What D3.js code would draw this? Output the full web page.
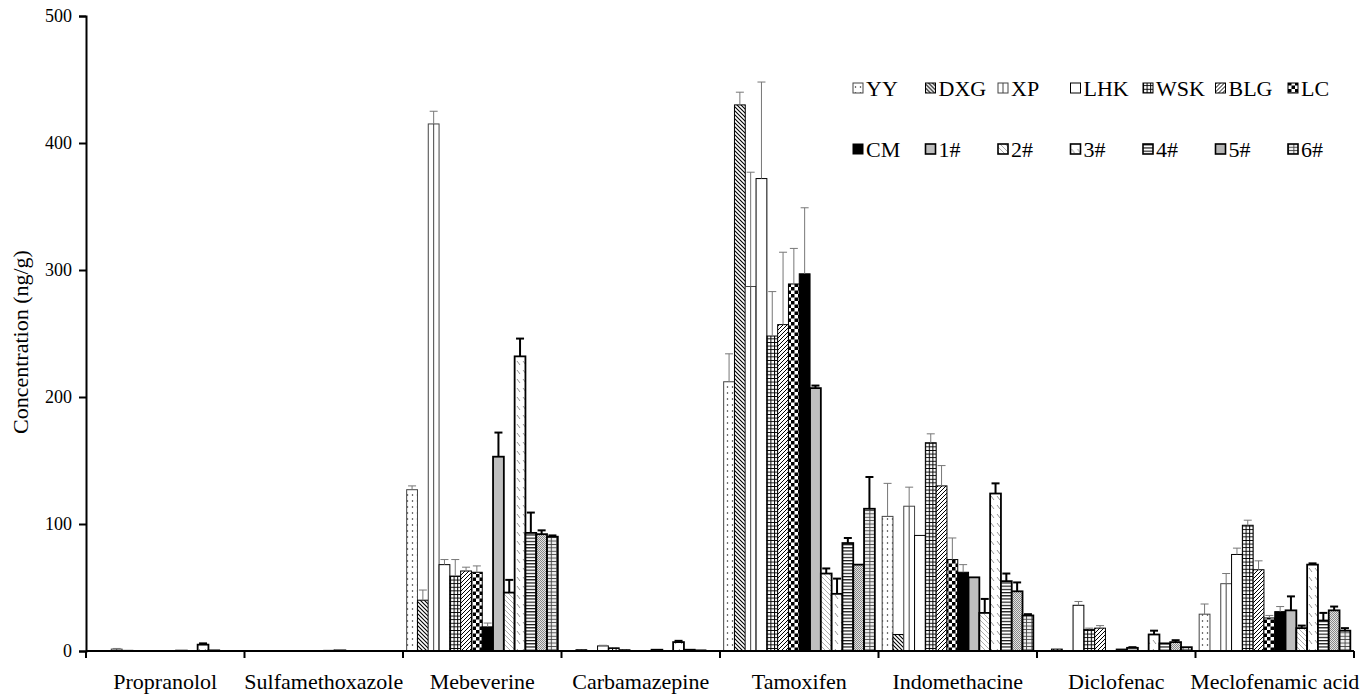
<!DOCTYPE html>
<html>
<head>
<meta charset="utf-8">
<script src="https://cdn.jsdelivr.net/npm/d3@7"></script>
<style>
  body { margin: 0; background: #fff; }
</style>
</head>
<body>
<svg id="chart" width="1362" height="695"></svg>
<script>
const categories = ["Propranolol", "Sulfamethoxazole", "Mebeverine", "Carbamazepine",
  "Tamoxifen", "Indomethacine", "Diclofenac", "Meclofenamic acid"];
const sites = ["YY", "DXG", "XP", "LHK", "WSK", "BLG", "LC", "CM", "1#", "2#", "3#", "4#", "5#", "6#"];
const yTicks = [0, 100, 200, 300, 400, 500];

// mean values per compound, in site order
const propranolol      = [0, 0, 1.5, 0.5, 0, 0, 0, 0, 0.3, 0, 5, 0.5, 0, 0];
const sulfamethoxazole = [0, 0, 0, 0, 0, 0, 0, 0.5, 0.5, 0, 0, 0, 0, 0];
const mebeverine       = [127, 40, 415, 68, 59, 63, 62, 19, 153, 46, 232, 93, 92, 90];
const carbamazepine    = [0, 1, 0, 4, 2.5, 1, 0, 0, 1, 0, 7, 1, 0.5, 0];
const tamoxifen        = [212, 430, 287, 372, 248, 257, 289, 297, 207, 61, 45, 85, 68, 112];
const indomethacine    = [106, 13, 114, 91, 164, 130, 72, 62, 58, 30, 124, 55, 47, 28];
const diclofenac       = [0, 1.5, 0, 36, 17, 18, 0, 1.5, 2.5, 0, 13, 6, 7, 3];
const meclofenamic     = [29, 0, 53, 76, 99, 64, 26, 31, 32, 18, 68, 24, 32, 16];

// standard deviations
const propranololSd      = [0, 0, 0.5, 0, 0, 0, 0, 0, 0, 0, 1, 0, 0, 0];
const sulfamethoxazoleSd = [0, 0, 0, 0, 0, 0, 0, 0, 0, 0, 0, 0, 0, 0];
const mebeverineSd       = [3, 8, 10, 4, 13, 3, 5, 3, 19, 10, 14, 16, 3, 1];
const carbamazepineSd    = [0, 0, 0, 0.5, 0, 0, 0, 0, 0, 0, 1, 0, 0, 0];
const tamoxifenSd        = [22, 10, 90, 76, 35, 57, 28, 52, 2, 4, 12, 4, 0, 25];
const indomethacineSd    = [26, 0, 15, 0, 7, 16, 17, 6, 0, 11, 8, 6, 7, 1];
const diclofenacSd       = [0, 0, 0, 3, 1, 2, 0, 0, 0.5, 0, 3, 0, 1.5, 0];
const meclofenamicSd     = [8, 0, 8, 5, 4, 7, 2, 4, 11, 2, 1, 6, 3, 2];

const means = [propranolol, sulfamethoxazole, mebeverine, carbamazepine,
  tamoxifen, indomethacine, diclofenac, meclofenamic];
const sds = [propranololSd, sulfamethoxazoleSd, mebeverineSd, carbamazepineSd,
  tamoxifenSd, indomethacineSd, diclofenacSd, meclofenamicSd];

const rows = [];
categories.forEach((c, i) => {
  sites.forEach((s, j) => {
    rows.push({ cat: c, site: s, idx: j, v: means[i][j], sd: sds[i][j] });
  });
});

const serif = "'Liberation Serif', 'Times New Roman', Times, serif";
const svg = d3.select("#chart");
const defs = svg.append("defs");

const plotLeft = 86, plotRight = 1354, plotTop = 16, plotBottom = 651;

const x = d3.scaleBand().domain(categories).range([plotLeft, plotRight]).padding(0);
const xs = d3.scaleBand().domain(sites).range([0, x.bandwidth()]).paddingInner(0).paddingOuter(0.34);
const y = d3.scaleLinear().domain([0, 500]).range([plotBottom, plotTop]);

// fill patterns
function pat(id, w, h, bg, draw) {
  const p = defs.append("pattern").attr("id", id)
    .attr("patternUnits", "userSpaceOnUse").attr("width", w).attr("height", h);
  p.append("rect").attr("width", w).attr("height", h).attr("fill", bg);
  draw(p);
}
pat("p-yy", 5, 6, "#fff", p => p.append("circle").attr("cx", 2.5).attr("cy", 3).attr("r", 0.75).attr("fill", "#222"));
pat("p-dxg", 4, 4, "#fff", p => p.append("path").attr("d", "M0,0L4,4M-1,3L1,5M3,-1L5,1").attr("stroke", "#000").attr("stroke-width", 1.1));
pat("p-wsk", 3.6, 3.6, "#fff", p => p.append("path").attr("d", "M0,0.5H3.6M0.5,0V3.6").attr("stroke", "#000").attr("stroke-width", 1));
pat("p-blg", 4, 4, "#fff", p => p.append("path").attr("d", "M0,4L4,0M-1,1L1,-1M3,5L5,3").attr("stroke", "#000").attr("stroke-width", 1));
pat("p-lc", 7, 7, "#fff", p => {
  p.append("rect").attr("width", 3.5).attr("height", 3.5).attr("fill", "#000");
  p.append("rect").attr("x", 3.5).attr("y", 3.5).attr("width", 3.5).attr("height", 3.5).attr("fill", "#000");
});
pat("p-2", 5, 5, "#fff", p => p.append("path").attr("d", "M0,0L5,5M-1,4L1,6M4,-1L6,1").attr("stroke", "#999").attr("stroke-width", 0.8));
pat("p-3", 6, 9, "#fff", p => p.append("path").attr("d", "M1,1L4,5").attr("stroke", "#888").attr("stroke-width", 0.9));
pat("p-4", 3, 3.2, "#fff", p => p.append("path").attr("d", "M0,0.6H3").attr("stroke", "#000").attr("stroke-width", 1.1));
pat("p-5", 2, 2, "#e4e4e4", p => {
  p.append("rect").attr("width", 1).attr("height", 1).attr("fill", "#888");
  p.append("rect").attr("x", 1).attr("y", 1).attr("width", 1).attr("height", 1).attr("fill", "#888");
});
pat("p-6", 5.4, 3.4, "#eee", p => p.append("path").attr("d", "M0,0.5H5.4M0.5,0V3.4").attr("stroke", "#444").attr("stroke-width", 0.9));

const fills = ["url(#p-yy)", "url(#p-dxg)", "#fff", "#fff", "url(#p-wsk)", "url(#p-blg)", "url(#p-lc)",
  "#000", "#bfbfbf", "url(#p-2)", "url(#p-3)", "url(#p-4)", "url(#p-5)", "url(#p-6)"];
const strokeW = j => j >= 8 ? 1.8 : 1;
const strokeC = j => j === 0 || j === 2 ? "#444" : "#000";

// bars
const g = svg.append("g");
const bars = rows.filter(d => d.v > 0);

g.selectAll("rect.bar").data(bars).join("rect")
  .attr("class", "bar")
  .attr("x", d => x(d.cat) + xs(d.site))
  .attr("y", d => y(d.v))
  .attr("width", xs.bandwidth())
  .attr("height", d => y(0) - y(d.v))
  .attr("fill", d => fills[d.idx])
  .attr("stroke", d => strokeC(d.idx))
  .attr("stroke-width", d => strokeW(d.idx));

// XP has a line down the middle
g.selectAll("line.xp").data(bars.filter(d => d.idx === 2)).join("line")
  .attr("x1", d => x(d.cat) + xs(d.site) + xs.bandwidth() / 2)
  .attr("x2", d => x(d.cat) + xs(d.site) + xs.bandwidth() / 2)
  .attr("y1", d => y(d.v)).attr("y2", y(0))
  .attr("stroke", "#444").attr("stroke-width", 1);

// error bars
const errs = rows.filter(d => d.sd > 0);
const cap = 4;
const eg = g.selectAll("g.err").data(errs).join("g")
  .attr("stroke", d => d.idx >= 8 ? "#000" : "#777")
  .attr("stroke-width", d => d.idx >= 8 ? 2 : 1);
eg.append("line")
  .attr("x1", d => x(d.cat) + xs(d.site) + xs.bandwidth() / 2)
  .attr("x2", d => x(d.cat) + xs(d.site) + xs.bandwidth() / 2)
  .attr("y1", d => y(d.v)).attr("y2", d => y(d.v + d.sd));
eg.append("line")
  .attr("x1", d => x(d.cat) + xs(d.site) + xs.bandwidth() / 2 - cap)
  .attr("x2", d => x(d.cat) + xs(d.site) + xs.bandwidth() / 2 + cap)
  .attr("y1", d => y(d.v + d.sd)).attr("y2", d => y(d.v + d.sd));

// axes
const yAxis = svg.append("g").attr("transform", `translate(${plotLeft},0)`)
  .call(d3.axisLeft(y).tickValues(yTicks).tickSize(7).tickPadding(7));
yAxis.attr("font-family", serif);
yAxis.select(".domain").attr("stroke", "#000").attr("stroke-width", 2);
yAxis.selectAll(".tick line").attr("stroke-width", 2);
yAxis.selectAll(".tick text").attr("font-size", 18).attr("font-family", serif).attr("fill", "#000");

const xAxis = svg.append("g").attr("transform", `translate(0,${plotBottom})`);
xAxis.append("line").attr("x1", plotLeft).attr("x2", plotRight).attr("stroke", "#000").attr("stroke-width", 2);
xAxis.selectAll("line.tk").data(categories.concat(["end"])).join("line")
  .attr("class", "tk")
  .attr("x1", (d, i) => i < categories.length ? x(d) : plotRight)
  .attr("x2", (d, i) => i < categories.length ? x(d) : plotRight)
  .attr("y1", 0).attr("y2", 7).attr("stroke", "#000").attr("stroke-width", 2);
xAxis.selectAll("text").data(categories).join("text")
  .attr("x", d => x(d) + x.bandwidth() / 2)
  .attr("y", 38)
  .attr("text-anchor", "middle")
  .attr("font-family", serif)
  .attr("font-size", 22)
  .text(d => d);

svg.append("text")
  .attr("transform", `translate(28,342) rotate(-90)`)
  .attr("text-anchor", "middle")
  .attr("font-family", serif)
  .attr("font-size", 22)
  .text("Concentration (ng/g)");

// legend
const lg = svg.append("g").attr("transform", "translate(853,0)");
const items = lg.selectAll("g").data(sites).join("g")
  .attr("transform", (d, i) => `translate(${(i % 7) * 72.5},${i < 7 ? 96 : 157})`);
items.append("rect")
  .attr("x", 0).attr("y", -13).attr("width", 10).attr("height", 10)
  .attr("fill", (d, i) => fills[i])
  .attr("stroke", (d, i) => strokeC(i))
  .attr("stroke-width", (d, i) => i >= 8 ? 1.6 : 1);
items.filter((d, i) => i === 2).append("line")
  .attr("x1", 5).attr("x2", 5).attr("y1", -13).attr("y2", -3).attr("stroke", "#444");
items.append("text")
  .attr("x", 13).attr("y", 0)
  .attr("font-family", serif)
  .attr("font-size", 22)
  .text(d => d);
</script>
</body>
</html>
